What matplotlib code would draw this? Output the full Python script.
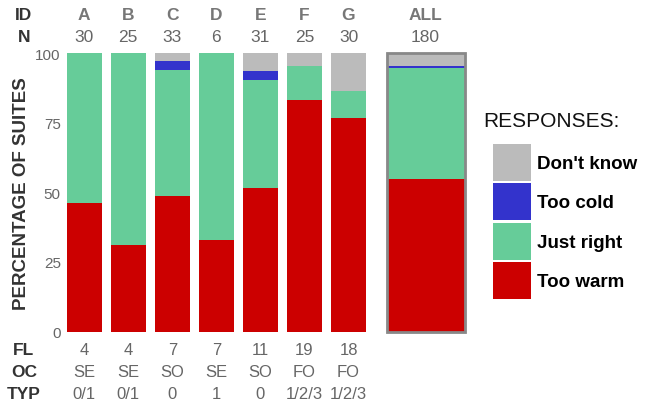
import matplotlib.pyplot as plt
import matplotlib.transforms as mtransforms
import numpy as np
from matplotlib.patches import Patch

plt.rcParams['font.family'] = ['Liberation Sans', 'DejaVu Sans']

# data (percentages of suites)
ids = ['A', 'B', 'C', 'D', 'E', 'F', 'G', 'ALL']
n = ['30', '25', '33', '6', '31', '25', '30', '180']
too_warm = [46, 31, 48.5, 33, 51.6, 83, 76.5, 54.7]
just_right = [54, 69, 45.5, 67, 38.7, 12.5, 10, 39.8]
too_cold = [0, 0, 3, 0, 3.2, 0, 0, 0.9]
dont_know = [0, 0, 3, 0, 6.5, 4.5, 13.5, 4.6]
fl = ['4', '4', '7', '7', '11', '19', '18']
oc = ['SE', 'SE', 'SO', 'SE', 'SO', 'FO', 'FO']
typ = ['0/1', '0/1', '0', '1', '0', '1/2/3', '1/2/3']

labels = ['Don\'t know', 'Too cold', 'Just right', 'Too warm']
colors = {'warm': '#cc0000', 'right': '#66cc99', 'cold': '#3333cc', 'dk': '#bbbbbb'}

W, H = 661, 406
fig = plt.figure(figsize=(W / 100, H / 100), dpi=100)

# axes placed in pixel terms: x=-0.5 at px 62.2, 44.05 px per unit
ax = fig.add_axes([62.2 / W, (H - 332.5) / H, 9.3 * 44.05 / W, 278.5 / H])

x = np.array([0, 1, 2, 3, 4, 5, 6, 7.75])
widths = np.array([0.795] * 7 + [1.77])

bottom = np.zeros(len(x))
for vals, key in [(too_warm, 'warm'), (just_right, 'right'), (too_cold, 'cold'), (dont_know, 'dk')]:
    v = np.array(vals, dtype=float)
    ax.bar(x, v, width=widths, bottom=bottom, color=colors[key], linewidth=0)
    bottom += v

# outline for ALL bar
ax.bar(x[-1], 100, width=widths[-1], fill=False, edgecolor='#888888', linewidth=2, clip_on=False)

ax.set_xlim(-0.5, 8.8)
ax.set_ylim(0, 100)
ax.set_yticks([0, 25, 50, 75, 100])
ax.tick_params(axis='y', length=0, pad=1, labelsize=11, labelcolor='#666666')
ax.set_xticks([])
for s in ax.spines.values():
    s.set_visible(False)

def fy(py):
    return 1 - py / H

blend = mtransforms.blended_transform_factory(ax.transData, fig.transFigure)

# header rows
for i, xi in enumerate(x):
    ax.text(xi, fy(15), ids[i], transform=blend, ha='center', va='center',
            fontsize=12.5, fontweight='bold', color='#777777')
    ax.text(xi, fy(38), n[i], transform=blend, ha='center', va='center',
            fontsize=12.5, color='#666666')

# bottom rows
for i in range(7):
    ax.text(x[i], fy(351), fl[i], transform=blend, ha='center', va='center', fontsize=12, color='#666666')
    ax.text(x[i], fy(373), oc[i], transform=blend, ha='center', va='center', fontsize=12, color='#666666')
    ax.text(x[i], fy(395), typ[i], transform=blend, ha='center', va='center', fontsize=12, color='#666666')

for lab, py in [('ID', 15), ('N', 38), ('FL', 351), ('OC', 373), ('TYP', 395)]:
    fig.text(24 / W, fy(py), lab, ha='center', va='center', fontsize=12.5,
             fontweight='bold', color='#333333')

fig.text(22 / W, fy(194), 'PERCENTAGE OF SUITES', rotation=90, ha='center', va='center',
         fontsize=13.5, fontweight='bold', color='#333333')

# legend
fig.text(483 / W, fy(122), 'RESPONSES:', ha='left', va='center', fontsize=15, color='#111111')
handles = [Patch(facecolor=colors[k], edgecolor='none') for k in ['dk', 'cold', 'right', 'warm']]
leg = fig.legend(handles, labels, loc='upper left', bbox_to_anchor=(493 / W, fy(145)),
                 frameon=False, borderpad=0, borderaxespad=0, handlelength=2.0, handleheight=2.66,
                 handletextpad=0.37, labelspacing=0.12, prop={'size': 13.5, 'weight': 'bold'})

fig.savefig('out.png', dpi=100)
